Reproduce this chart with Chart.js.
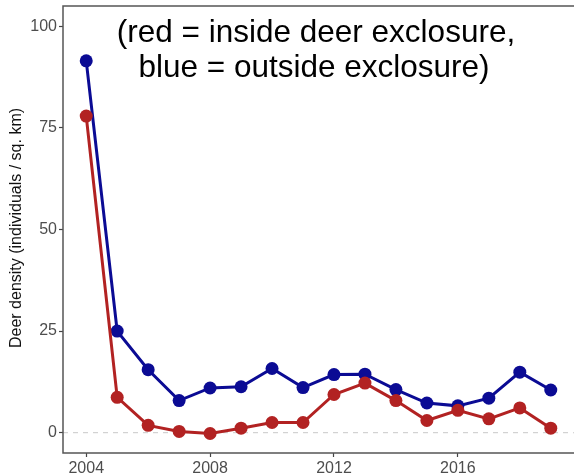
<!DOCTYPE html>
<html>
<head>
<meta charset="utf-8">
<script src="https://cdn.jsdelivr.net/npm/chart.js@4"></script>
<style>
html,body{margin:0;padding:0;background:#fff;}
#wrap{width:574px;height:475px;position:relative;}
</style>
</head>
<body>
<div id="wrap"><canvas id="c" width="574" height="475"></canvas></div>
<script>
const years = [2004,2005,2006,2007,2008,2009,2010,2011,2012,2013,2014,2015,2016,2017,2018,2019];
const outside = [91.5,25.0,15.5,7.9,11.0,11.3,15.8,11.1,14.3,14.4,10.6,7.3,6.6,8.5,14.9,10.5];
const inside  = [77.9,8.7,1.8,0.3,-0.2,1.1,2.5,2.5,9.4,12.2,7.9,3.0,5.5,3.4,6.1,1.1];
const yTicks = [0,25,50,75,100];
const xTicks = [2004,2008,2012,2016];
const titleLines = ["(red = inside deer exclosure,", "blue = outside exclosure)"];
const yTitle = "Deer density (individuals / sq. km)";

const FONT = "'Liberation Sans', Arial, sans-serif";

const extras = {
  id: 'extras',
  beforeDatasetsDraw(chart) {
    const {ctx, chartArea: a, scales} = chart;
    const y0 = scales.y.getPixelForValue(0);
    ctx.save();
    ctx.strokeStyle = '#c8c8c8';
    ctx.lineWidth = 1;
    ctx.setLineDash([5,5]);
    ctx.beginPath();
    ctx.moveTo(a.left, y0);
    ctx.lineTo(a.right, y0);
    ctx.stroke();
    ctx.setLineDash([]);
    ctx.fillStyle = '#000';
    ctx.font = "31.5px " + FONT;
    ctx.textAlign = 'center';
    ctx.textBaseline = 'alphabetic';
    ctx.fillText(titleLines[0], 316, 42);
    ctx.fillText(titleLines[1], 314, 77);
    ctx.restore();
  },
  afterDraw(chart) {
    const {ctx, chartArea: a} = chart;
    ctx.save();
    ctx.strokeStyle = '#555';
    ctx.lineWidth = 1.5;
    ctx.beginPath();
    ctx.moveTo(a.right + 2, a.top);
    ctx.lineTo(a.left, a.top);
    ctx.lineTo(a.left, a.bottom);
    ctx.lineTo(a.right + 2, a.bottom);
    ctx.stroke();
    ctx.fillStyle = '#111';
    ctx.font = "16px " + FONT;
    ctx.translate(17, 228);
    ctx.rotate(-Math.PI / 2);
    ctx.textAlign = 'center';
    ctx.textBaseline = 'middle';
    ctx.fillText(yTitle, 0, 0);
    ctx.restore();
  }
};

const mk = (vals, color) => ({
  data: years.map((x, i) => ({x, y: vals[i]})),
  borderColor: color,
  backgroundColor: color,
  pointBackgroundColor: color,
  pointBorderWidth: 0,
  pointRadius: 6.5,
  pointHoverRadius: 6.5,
  borderWidth: 3,
  tension: 0
});

new Chart(document.getElementById('c'), {
  type: 'line',
  data: { datasets: [ mk(inside, '#b22222'), mk(outside, '#0b0b94') ] },
  options: {
    responsive: false,
    animation: false,
    events: [],
    layout: { autoPadding: false, padding: { top: 6, right: 0, left: 0, bottom: 0 } },
    plugins: { legend: { display: false }, tooltip: { enabled: false } },
    scales: {
      x: {
        type: 'linear', min: 2003.25, max: 2019.75,
        afterBuildTicks(s) { s.ticks = xTicks.map(v => ({value: v})); },
        afterFit(s) { s.height = 22; s.paddingLeft = 0; s.paddingRight = 0; },
        grid: { drawOnChartArea: false, drawTicks: true, tickLength: 4, tickColor: '#444', tickWidth: 1.2 },
        border: { display: false },
        ticks: { color: '#4d4d4d', font: { family: FONT, size: 16 }, padding: 2, maxRotation: 0, autoSkip: false,
                 callback: v => String(v) }
      },
      y: {
        type: 'linear', min: -5, max: 105,
        afterBuildTicks(s) { s.ticks = yTicks.map(v => ({value: v})); },
        afterFit(s) { s.width = 63; s.paddingTop = 0; s.paddingBottom = 0; },
        grid: { drawOnChartArea: false, drawTicks: true, tickLength: 4, tickColor: '#444', tickWidth: 1.2 },
        border: { display: false },
        ticks: { color: '#4d4d4d', font: { family: FONT, size: 16 }, padding: 2, autoSkip: false,
                 callback: v => String(v) }
      }
    }
  },
  plugins: [extras]
});
</script>
</body>
</html>
